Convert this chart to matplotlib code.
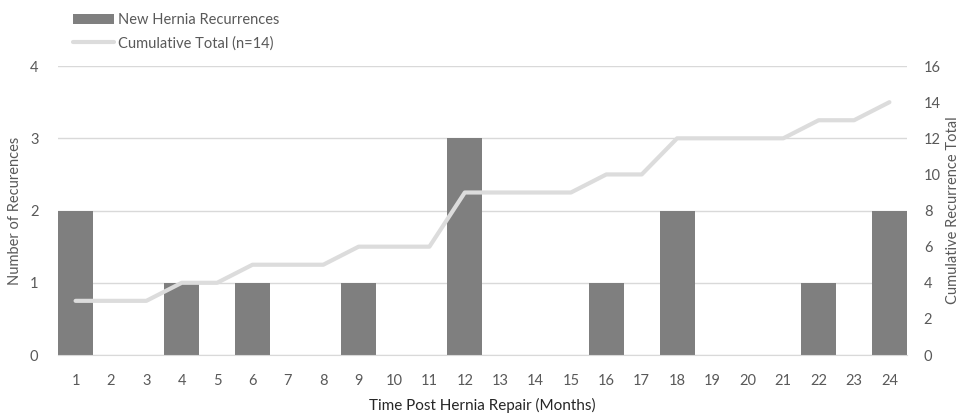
import matplotlib.pyplot as plt
import numpy as np

plt.rcParams['font.family'] = ['Lato', 'DejaVu Sans']

months = list(range(1, 25))
new_recurrences = [2, 0, 0, 1, 0, 1, 0, 0, 1, 0, 0, 3, 0, 0, 0, 1, 0, 2, 0, 0, 0, 1, 0, 2]
cumulative = [3, 3, 3, 4, 4, 5, 5, 5, 6, 6, 6, 9, 9, 9, 9, 10, 10, 12, 12, 12, 12, 13, 13, 14]

bar_color = '#7f7f7f'
line_color = '#dcdcdc'
text_color = '#595959'

fig = plt.figure(figsize=(9.65, 4.13), dpi=100)
ax = fig.add_axes([0.060, 0.1404, 0.880, 0.6996])
ax2 = ax.twinx()

x = np.arange(len(months))
bars = ax.bar(x, new_recurrences, width=0.99, color=bar_color, zorder=2,
              label='New Hernia Recurrences')
line, = ax2.plot(x, cumulative, color=line_color, lw=3, solid_capstyle='round',
                 zorder=3, label='Cumulative Total (n=14)')

ax.set_xlim(-0.5, len(months) - 0.5)
ax.set_ylim(0, 4)
ax.set_yticks(range(0, 5))
ax2.set_ylim(0, 16)
ax2.set_yticks(range(0, 17, 2))

ax.set_xticks(x, [str(m) for m in months])
ax.yaxis.grid(True, color='#d9d9d9', lw=1, zorder=0)
ax.set_axisbelow(True)

for a in (ax, ax2):
    for s in a.spines.values():
        s.set_visible(False)
    a.tick_params(length=0, labelsize=10.5, colors=text_color)
ax.spines['bottom'].set_visible(True)
ax.spines['bottom'].set_color('#d9d9d9')
ax.tick_params(axis='x', pad=14)
ax.tick_params(axis='y', pad=14)
ax2.tick_params(axis='y', pad=12)

ax.set_ylabel('Number of Recurences', fontsize=10.5, color=text_color, labelpad=6)
ax2.set_ylabel('Cumulative Recurrence Total', fontsize=10.5, color=text_color, labelpad=4)
ax.set_xlabel('Time Post Hernia Repair (Months)', fontsize=11, color='#262626', labelpad=7)

fig.legend(handles=[bars, line], loc='upper left', bbox_to_anchor=(0.062, 1.0),
           frameon=False, fontsize=10.5, labelcolor=text_color, handlelength=2.8,
           handletextpad=0.3, labelspacing=0.6, borderaxespad=0.5)

fig.savefig('out.png', dpi=100)
